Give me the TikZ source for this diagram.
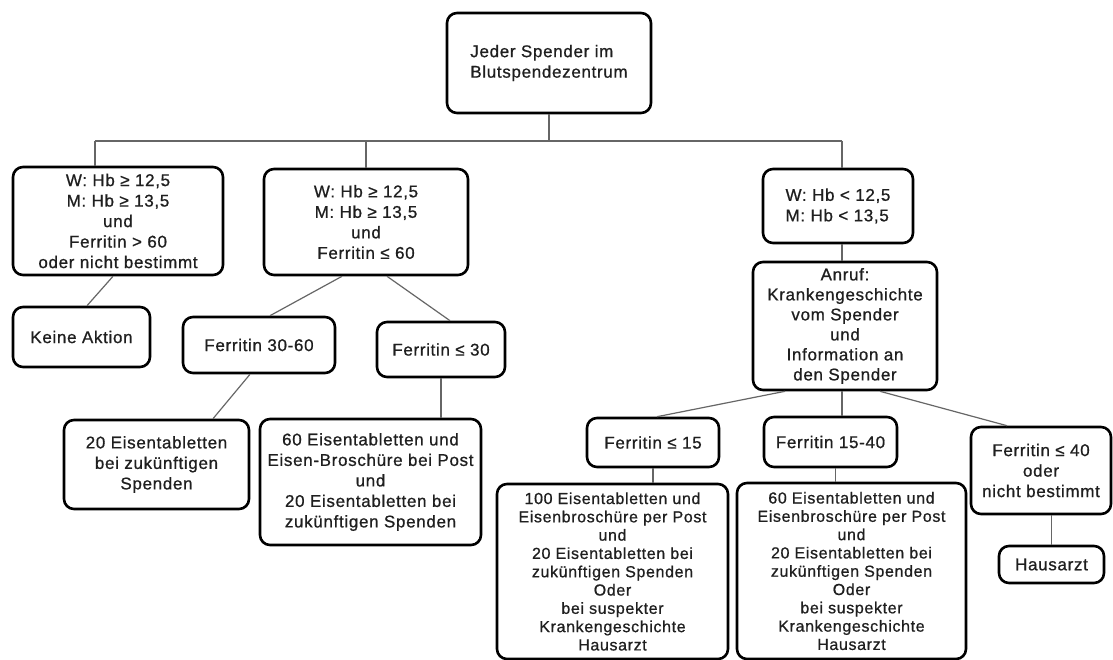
\documentclass[tikz,border=0pt]{standalone}
\usepackage{fontspec}
\setmainfont{Liberation Sans}[LetterSpace=4,FakeBold=0.8]
\newcommand\fsA{\fontsize{17}{20.5}\selectfont}
\newcommand\fsB{\fontsize{16}{18.3}\selectfont}
\tikzset{
  box/.style={draw=black, line width=2.6pt, rounded corners=10pt, fill=white,
    align=center, inner sep=0pt, text=black!88, font=\fsA},
  smalltext/.style={font=\fsB},
  conn/.style={draw=black!60, line width=1.2pt},
}
\begin{document}
\begin{tikzpicture}[x=1pt,y=-1pt]
\useasboundingbox[fill=white] (0,0) rectangle (1113,660);

\node[box, minimum width=204pt, minimum height=100pt, align=left] (top) at (549,63) {Jeder Spender im\\Blutspendezentrum};
\node[box, minimum width=210pt, minimum height=108pt] (L1) at (118,221) {W: Hb ≥ 12,5\\M: Hb ≥ 13,5\\und\\Ferritin > 60\\oder nicht bestimmt};
\node[box, minimum width=204pt, minimum height=106pt] (M1) at (366,222) {W: Hb ≥ 12,5\\M: Hb ≥ 13,5\\und\\Ferritin ≤ 60};
\node[box, minimum width=150pt, minimum height=74pt, align=left] (R1) at (838,206) {W: Hb < 12,5\\M: Hb < 13,5};
\node[box, minimum width=137pt, minimum height=60pt] (K) at (81.5,337) {Keine Aktion};
\node[box, minimum width=152pt, minimum height=56pt] (F3060) at (259,345) {Ferritin 30-60};
\node[box, minimum width=128pt, minimum height=55pt] (F30) at (441,349.5) {Ferritin ≤ 30};
\node[box, minimum width=185pt, minimum height=89pt] (E20) at (156.5,464.5) {20 Eisentabletten\\bei zukünftigen\\Spenden};
\node[box, minimum width=221pt, minimum height=126pt] (E60) at (370.5,482) {60 Eisentabletten und\\Eisen-Broschüre bei Post\\und\\20 Eisentabletten bei\\zukünftigen Spenden};
\node[box, minimum width=184pt, minimum height=128pt, font=\fontsize{17}{20}\selectfont] (A) at (845,326) {Anruf:\\Krankengeschichte\\vom Spender\\und\\Information an\\den Spender};
\node[box, minimum width=132pt, minimum height=49pt] (F15) at (653,442.5) {Ferritin ≤ 15};
\node[box, minimum width=133pt, minimum height=50pt] (F1540) at (830.5,442) {Ferritin 15-40};
\node[box, minimum width=140pt, minimum height=87pt] (F40) at (1041,470.5) {Ferritin ≤ 40\\oder\\nicht bestimmt};
\node[box, minimum width=105pt, minimum height=37pt] (H) at (1051.5,564.5) {Hausarzt};
\node[box, smalltext, minimum width=231pt, minimum height=175pt] (E100) at (612.5,571.5) {100 Eisentabletten und\\Eisenbroschüre per Post\\und\\20 Eisentabletten bei\\zukünftigen Spenden\\Oder\\bei suspekter\\Krankengeschichte\\Hausarzt};
\node[box, smalltext, minimum width=229pt, minimum height=176pt] (E60b) at (851.5,571) {60 Eisentabletten und\\Eisenbroschüre per Post\\und\\20 Eisentabletten bei\\zukünftigen Spenden\\Oder\\bei suspekter\\Krankengeschichte\\Hausarzt};

\coordinate (bL) at (95,141);
\coordinate (bR) at (842,141);
\draw[conn] (bL) -- (bR);
\draw[conn] (top.south) -- (top.south |- bL);
\draw[conn] (bL) -- (bL |- L1.north);
\draw[conn] (M1.north |- bL) -- (M1.north);
\draw[conn] (bR) -- (bR |- R1.north);

\draw[conn] ([xshift=-5pt]L1.south) -- ([xshift=5.5pt]K.north);
\draw[conn] ([xshift=-24pt]M1.south) -- ([xshift=11pt]F3060.north);
\draw[conn] ([xshift=21pt]M1.south) -- ([xshift=9pt]F30.north);
\draw[conn] ([xshift=-9pt]F3060.south) -- ([xshift=56.5pt]E20.north);
\draw[conn] (F30.south) -- (F30.south |- E60.north);

\draw[conn] (bR |- R1.south) -- (bR |- A.north);
\draw[conn] ([xshift=-60pt]A.south) -- ([xshift=4pt]F15.north);
\draw[conn] (bR |- A.south) -- (bR |- F1540.north);
\draw[conn] ([xshift=35pt]A.south) -- ([xshift=-34pt]F40.north);
\draw[conn] (F15.south) -- (F15.south |- E100.north);
\draw[conn] ([xshift=5pt]F1540.south) -- ([xshift=5pt]F1540.south |- E60b.north);
\draw[conn] (H.north |- F40.south) -- (H.north);
\end{tikzpicture}
\end{document}
